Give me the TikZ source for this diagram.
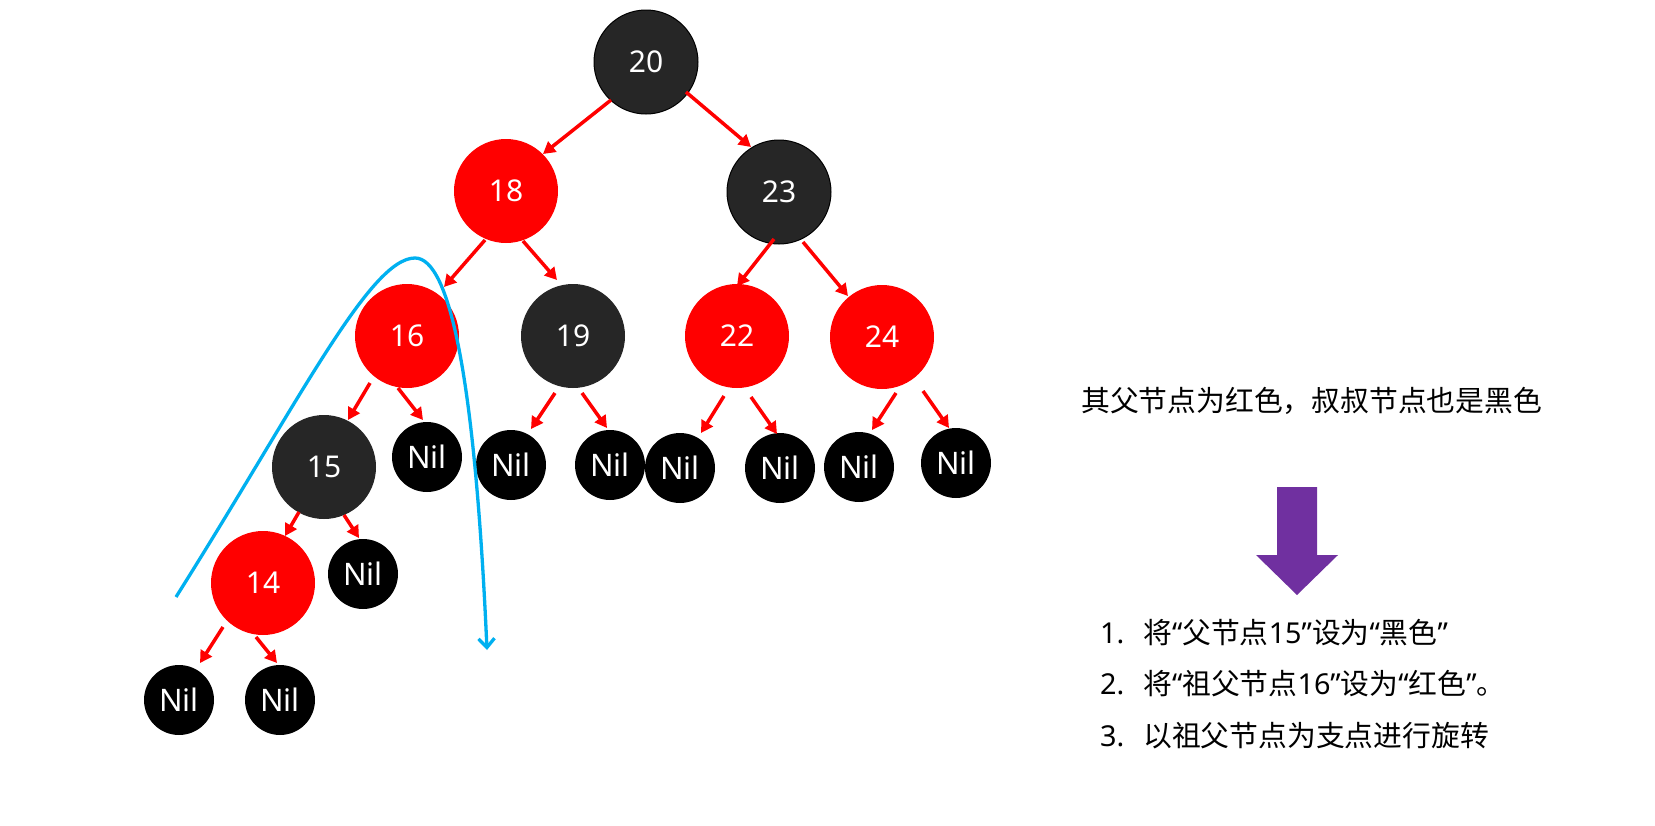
\documentclass[tikz,border=0pt]{standalone}
\usepackage{fontspec}
\setmainfont{Noto Sans}
\newfontfamily\cjk{Noto Sans CJK SC}
\newfontfamily\latq{Noto Sans}
\newcommand\myoq{{\latq “}}
\newcommand\mycq{{\latq ”}}
\usetikzlibrary{arrows.meta,calc}
\definecolor{nodered}{RGB}{255,0,0}
\definecolor{nodedark}{RGB}{38,38,38}
\definecolor{curveblue}{RGB}{0,176,240}
\definecolor{arrowpurple}{RGB}{112,48,160}
\begin{document}
\begin{tikzpicture}[x=1pt,y=-1pt,
  rbnode/.style={circle, minimum size=104pt, inner sep=0pt, text=white, font=\fontsize{30}{30}\selectfont},
  rednode/.style={rbnode, fill=nodered},
  blacknode/.style={rbnode, fill=nodedark, draw=black, line width=1pt},
  darknode/.style={rbnode, fill=nodedark},
  nilnode/.style={circle, minimum size=70pt, inner sep=0pt, fill=black, text=white, font=\fontsize{31}{31}\selectfont},
  edge/.style={draw=nodered, line width=3.5pt, -{Triangle[length=12pt,width=13pt]}},
  cjktext/.style={anchor=base west, inner sep=0pt, font=\cjk\fontsize{28.8}{30}\selectfont},
  numtext/.style={anchor=base west, inner sep=0pt, font=\fontsize{28.8}{30}\selectfont}
]
\useasboundingbox[fill=white] (0,0) rectangle (1655,825);

% tree nodes
\node[blacknode] (n20) at (646,62) {20};
\node[rednode] (n18) at (506,191) {18};
\node[blacknode] (n23) at (779,192) {23};
\node[rednode] (n16) at (407,336) {16};
\node[darknode] (n19) at (573,336) {19};
\node[rednode] (n22) at (737,336) {22};
\node[rednode] (n24) at (882,337) {24};
\node[darknode] (n15) at (324,467) {15};
\node[rednode] (n14) at (263,583) {14};

\node[nilnode] (nilA) at (427,457) {Nil};
\node[nilnode] (nilB) at (511,465) {Nil};
\node[nilnode] (nilC) at (610,465) {Nil};
\node[nilnode] (nilD) at (680,468) {Nil};
\node[nilnode] (nilE) at (780,468) {Nil};
\node[nilnode] (nilF) at (859,467) {Nil};
\node[nilnode] (nilG) at (956,463) {Nil};
\node[nilnode] (nilH) at (363,574) {Nil};
\node[nilnode] (nilI) at (179,700) {Nil};
\node[nilnode] (nilJ) at (280,700) {Nil};

% edges
\draw[edge] ($(n20)+(-35,38)$) -- ($(n18)+(37,-37)$);
\draw[edge] ($(n20)+(40,30)$) -- ($(n23)+(-28,-45)$);
\draw[edge] ($(n18)+(-21,49)$) -- ($(n16)+(37,-49)$);
\draw[edge] ($(n18)+(17,50)$) -- ($(n19)+(-16,-56)$);
\draw[edge] ($(n23)+(-5,47)$) -- ($(n22)+(0,-50)$);
\draw[edge] ($(n23)+(24,50)$) -- ($(n24)+(-34,-41)$);
\draw[edge] ($(n16)+(-37,47)$) -- ($(n15)+(24,-47)$);
\draw[edge] ($(n16)+(-9,52)$) -- ($(nilA)+(-4,-37)$);
\draw[edge] ($(n19)+(-18,57)$) -- ($(nilB)+(20,-36)$);
\draw[edge] ($(n19)+(9,57)$) -- ($(nilC)+(-3,-37)$);
\draw[edge] ($(n22)+(-13,60)$) -- ($(nilD)+(21,-35)$);
\draw[edge] ($(n22)+(14,61)$) -- ($(nilE)+(-3,-34)$);
\draw[edge] ($(n24)+(14,56)$) -- ($(nilF)+(13,-37)$);
\draw[edge] ($(n24)+(41,54)$) -- ($(nilG)+(-7,-35)$);
\draw[edge] ($(n15)+(-25,45)$) -- ($(n14)+(22,-47)$);
\draw[edge] ($(n15)+(20,48)$) -- ($(nilH)+(-4,-36)$);
\draw[edge] ($(n14)+(-40,44)$) -- ($(nilI)+(21,-37)$);
\draw[edge] ($(n14)+(-7,54)$) -- ($(nilJ)+(-3,-37)$);

% rotation curve
\coordinate (curveStart) at (176,597);
\coordinate (curvePeak) at (415,258);
\coordinate (curveEnd) at (487,650);
\draw[curveblue, line width=3.3pt, -{Straight Barb[length=9pt,width=16pt]}]
  (curveStart) .. controls (300,400) and (370,258) .. (curvePeak)
  .. controls (450,258) and (475,380) .. (curveEnd);

% right side text
\node[cjktext] (title) at (1081,411) {其父节点为红色，叔叔节点也是黑色};

\fill[arrowpurple] (1277,487) -- (1317,487) -- (1317,555) -- (1338,555) -- (1297,595) -- (1256,555) -- (1277,555) -- cycle;

\node[numtext] (num1) at (1100,643) {1.};
\node[cjktext] (step1) at (1143,643) {将\myoq 父节点{\latq 15}\mycq 设为\myoq 黑色\mycq};
\node[numtext] (num2) at (1100,694) {2.};
\node[cjktext] (step2) at (1143,694) {将\myoq 祖父节点{\latq 16}\mycq 设为\myoq 红色\mycq 。};
\node[numtext] (num3) at (1100,746) {3.};
\node[cjktext] (step3) at (1143,746) {以祖父节点为支点进行旋转};
\end{tikzpicture}
\end{document}
